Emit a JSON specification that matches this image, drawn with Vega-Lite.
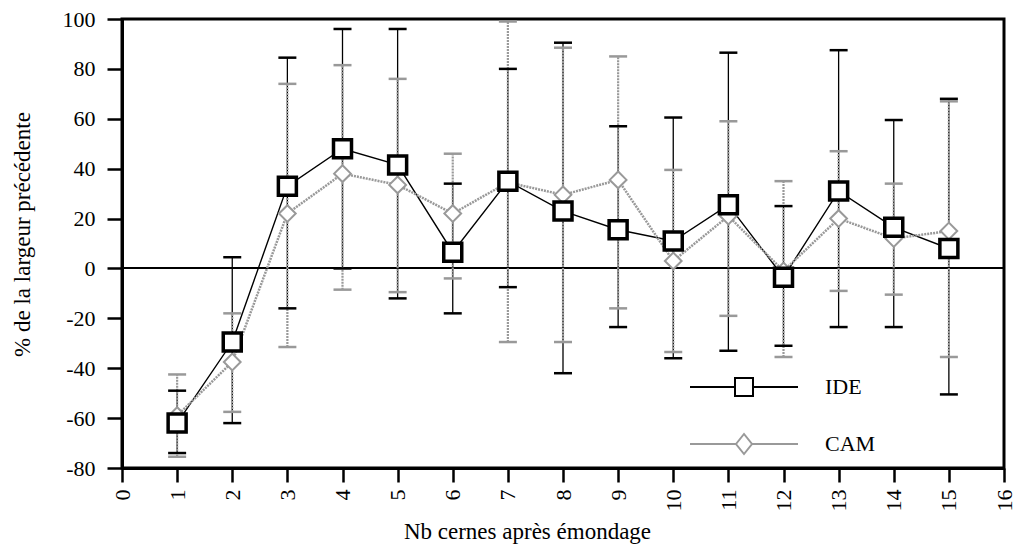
{
  "$schema": "https://vega.github.io/schema/vega-lite/v6.json",
  "autosize": {"type": "none"},
  "padding": {"left": 122, "top": 19, "right": 15, "bottom": 81},
  "width": 882,
  "height": 449,
  "background": "white",
  "data": {
    "values": [
      {"x": 1, "series": "IDE", "mean": -62, "lo": -74, "hi": -49},
      {"x": 2, "series": "IDE", "mean": -29.5, "lo": -62, "hi": 4.5},
      {"x": 3, "series": "IDE", "mean": 33, "lo": -16, "hi": 84.5},
      {"x": 4, "series": "IDE", "mean": 48, "lo": 0, "hi": 96},
      {"x": 5, "series": "IDE", "mean": 41.5, "lo": -12, "hi": 96},
      {"x": 6, "series": "IDE", "mean": 6.5, "lo": -18, "hi": 34},
      {"x": 7, "series": "IDE", "mean": 35, "lo": -7.5, "hi": 80},
      {"x": 8, "series": "IDE", "mean": 23, "lo": -42, "hi": 90.5},
      {"x": 9, "series": "IDE", "mean": 15.5, "lo": -23.5, "hi": 57},
      {"x": 10, "series": "IDE", "mean": 11, "lo": -36, "hi": 60.5},
      {"x": 11, "series": "IDE", "mean": 25.5, "lo": -33, "hi": 86.5},
      {"x": 12, "series": "IDE", "mean": -3.5, "lo": -31, "hi": 25},
      {"x": 13, "series": "IDE", "mean": 31, "lo": -23.5, "hi": 87.5},
      {"x": 14, "series": "IDE", "mean": 16.5, "lo": -23.5, "hi": 59.5},
      {"x": 15, "series": "IDE", "mean": 8, "lo": -50.5, "hi": 68},
      {"x": 1, "series": "CAM", "mean": -59, "lo": -75.5, "hi": -42.5},
      {"x": 2, "series": "CAM", "mean": -37.5, "lo": -57.5, "hi": -18},
      {"x": 3, "series": "CAM", "mean": 22, "lo": -31.5, "hi": 74},
      {"x": 4, "series": "CAM", "mean": 38, "lo": -8.5, "hi": 81.5},
      {"x": 5, "series": "CAM", "mean": 33.5, "lo": -9.5, "hi": 76},
      {"x": 6, "series": "CAM", "mean": 22, "lo": -4, "hi": 46},
      {"x": 7, "series": "CAM", "mean": 34.5, "lo": -29.5, "hi": 99},
      {"x": 8, "series": "CAM", "mean": 29.5, "lo": -29.5, "hi": 88.5},
      {"x": 9, "series": "CAM", "mean": 35.5, "lo": -16, "hi": 85},
      {"x": 10, "series": "CAM", "mean": 3, "lo": -33.5, "hi": 39.5},
      {"x": 11, "series": "CAM", "mean": 21, "lo": -19, "hi": 59},
      {"x": 12, "series": "CAM", "mean": -1, "lo": -35.5, "hi": 35},
      {"x": 13, "series": "CAM", "mean": 20, "lo": -9, "hi": 47},
      {"x": 14, "series": "CAM", "mean": 12, "lo": -10.5, "hi": 34},
      {"x": 15, "series": "CAM", "mean": 15, "lo": -35.5, "hi": 67}
    ]
  },
  "encoding": {
    "x": {
      "field": "x", "type": "quantitative",
      "scale": {"domain": [0, 16], "nice": false, "zero": false},
      "axis": {
        "values": [0, 1, 2, 3, 4, 5, 6, 7, 8, 9, 10, 11, 12, 13, 14, 15, 16],
        "labelAngle": -90, "tickSize": 14, "labelPadding": 7,
        "labelFlush": false, "labelOverlap": false,
        "title": "Nb cernes après émondage",
        "titleX": 405, "titleY": 70, "titleAlign": "center", "titleBaseline": "alphabetic",
        "titleFontSize": 23
      }
    }
  },
  "layer": [
    {
      "mark": {"type": "rule", "color": "black", "strokeWidth": 1.2},
      "encoding": {"y": {"datum": 0, "type": "quantitative"}, "x": null}
    },
    {
      "transform": [{"filter": "datum.series === 'IDE'"}],
      "mark": {"type": "rule", "color": "black", "strokeWidth": 1.3},
      "encoding": {
        "y": {
          "field": "lo", "type": "quantitative",
          "scale": {"domain": [-80, 100], "nice": false, "zero": false},
          "axis": {
            "values": [-80, -60, -40, -20, 0, 20, 40, 60, 80, 100],
            "tickSize": 15, "labelPadding": 12,
            "labelExpr": "datum.value < 0 ? '-' + abs(datum.value) : '' + datum.value",
            "title": "% de la largeur précédente",
            "titleX": -93, "titleY": 215, "titleAlign": "center", "titleBaseline": "alphabetic",
            "titleAngle": -90, "titleFontSize": 23
          }
        },
        "y2": {"field": "hi"}
      }
    },
    {
      "transform": [{"filter": "datum.series === 'CAM'"}],
      "mark": {"type": "rule", "color": "#999999", "strokeWidth": 2.2, "strokeDash": [2, 1]},
      "encoding": {"y": {"field": "lo", "type": "quantitative"}, "y2": {"field": "hi"}}
    },
    {
      "transform": [{"filter": "datum.series === 'IDE'"}],
      "mark": {"type": "tick", "orient": "horizontal", "color": "black", "size": 18, "thickness": 2.5, "opacity": 1},
      "encoding": {"y": {"field": "lo", "type": "quantitative"}}
    },
    {
      "transform": [{"filter": "datum.series === 'IDE'"}],
      "mark": {"type": "tick", "orient": "horizontal", "color": "black", "size": 18, "thickness": 2.5, "opacity": 1},
      "encoding": {"y": {"field": "hi", "type": "quantitative"}}
    },
    {
      "transform": [{"filter": "datum.series === 'CAM'"}],
      "mark": {"type": "tick", "orient": "horizontal", "color": "#999999", "size": 18, "thickness": 2.5, "opacity": 1},
      "encoding": {"y": {"field": "lo", "type": "quantitative"}}
    },
    {
      "transform": [{"filter": "datum.series === 'CAM'"}],
      "mark": {"type": "tick", "orient": "horizontal", "color": "#999999", "size": 18, "thickness": 2.5, "opacity": 1},
      "encoding": {"y": {"field": "hi", "type": "quantitative"}}
    },
    {
      "transform": [{"filter": "datum.series === 'IDE'"}],
      "mark": {"type": "line", "color": "black", "strokeWidth": 1.4},
      "encoding": {"y": {"field": "mean", "type": "quantitative"}}
    },
    {
      "transform": [{"filter": "datum.series === 'CAM'"}],
      "mark": {"type": "line", "color": "#999999", "strokeWidth": 2.5, "strokeDash": [2, 1]},
      "encoding": {"y": {"field": "mean", "type": "quantitative"}}
    },
    {
      "transform": [{"filter": "datum.series === 'CAM'"}],
      "mark": {"type": "point", "shape": "diamond", "filled": true, "fill": "white", "stroke": "#999999", "size": 280, "strokeWidth": 2, "opacity": 1, "fillOpacity": 1},
      "encoding": {"y": {"field": "mean", "type": "quantitative"}}
    },
    {
      "transform": [{"filter": "datum.series === 'IDE'"}],
      "mark": {"type": "point", "shape": "square", "filled": true, "fill": "white", "stroke": "black", "size": 324, "strokeWidth": 3.5, "opacity": 1, "fillOpacity": 1},
      "encoding": {"y": {"field": "mean", "type": "quantitative"}}
    },
    {
      "mark": {"type": "point", "filled": true, "fill": "white", "size": 0, "strokeWidth": 0, "opacity": 1},
      "encoding": {
        "y": {"field": "mean", "type": "quantitative"},
        "shape": {
          "field": "series", "type": "nominal",
          "scale": {"domain": ["IDE", "CAM"], "range": ["M-5.4,0H-0.9M0.9,0H5.4M-0.9,-0.9H0.9V0.9H-0.9Z", "M-5.4,0H-0.8M0.8,0H5.4M-0.8,0L0,-1L0.8,0L0,1Z"]},
          "legend": {
            "orient": "none", "legendX": 611, "legendY": 357, "title": null,
            "symbolSize": 400, "symbolStrokeWidth": 2, "symbolFillColor": "white",
            "labelFont": "Liberation Serif", "labelFontSize": 22, "labelColor": "black",
            "labelOffset": 70, "rowPadding": 30, "padding": 0
          }
        },
        "stroke": {"field": "series", "type": "nominal", "scale": {"domain": ["IDE", "CAM"], "range": ["black", "#999999"]}}
      }
    }
  ],
  "config": {
    "font": "Liberation Serif",
    "view": {"stroke": "black", "strokeWidth": 3},
    "axis": {
      "grid": false, "domainColor": "black", "domainWidth": 3,
      "tickColor": "black", "tickWidth": 2.5,
      "labelFont": "Liberation Serif", "labelFontSize": 22, "labelColor": "black",
      "titleFont": "Liberation Serif", "titleFontSize": 22, "titleFontWeight": "normal", "titleColor": "black"
    }
  }
}
